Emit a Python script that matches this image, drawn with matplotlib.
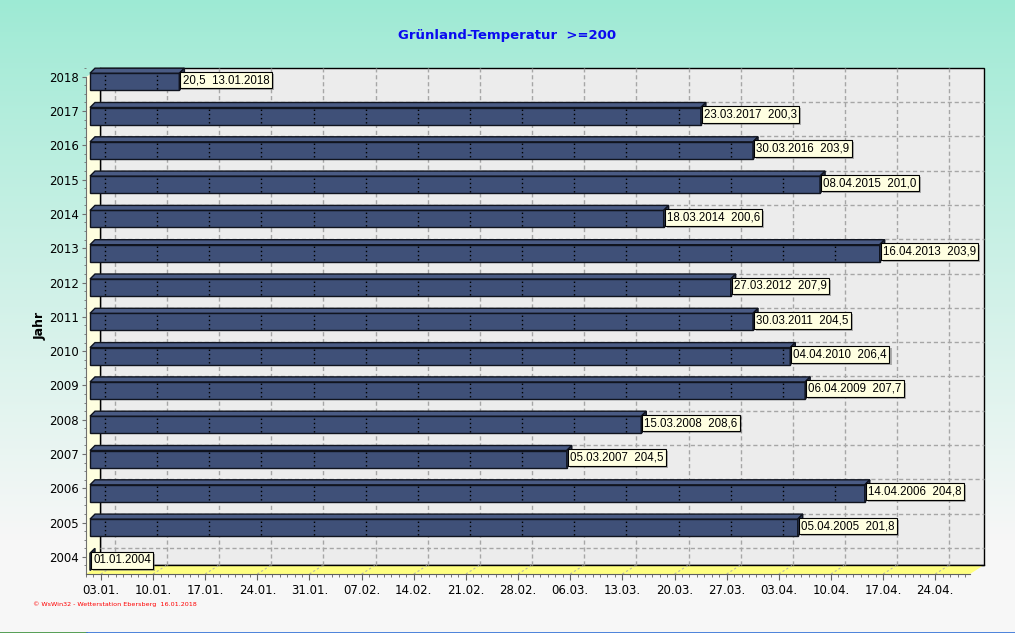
import numpy as np
import matplotlib.pyplot as plt
from matplotlib.patches import Polygon, Rectangle
from matplotlib.ticker import MultipleLocator
import matplotlib.patheffects as pe
from datetime import date

##########################################################################
###   data: date when the grassland temperature sum reached 200
##########################################################################
years = list(range(2004, 2019))
dates = ['01.01.2004', '05.04.2005', '14.04.2006', '05.03.2007', '15.03.2008',
         '06.04.2009', '04.04.2010', '30.03.2011', '27.03.2012', '16.04.2013',
         '18.03.2014', '08.04.2015', '30.03.2016', '23.03.2017', '13.01.2018']
values = [None, 201.8, 204.8, 204.5, 208.6, 207.7, 206.4, 204.5, 207.9, 203.9,
          200.6, 201.0, 203.9, 200.3, 20.5]
xtick_labels = ['03.01.', '10.01.', '17.01.', '24.01.', '31.01.', '07.02.',
                '14.02.', '21.02.', '28.02.', '06.03.', '13.03.', '20.03.',
                '27.03.', '03.04.', '10.04.', '17.04.', '24.04.']

def dayIndex(s):
    '''days since 01.01. on a 366 day calendar (like the chart axis)'''
    d, m = int(s[0:2]), int(s[3:5])
    return (date(2000, m, d) - date(2000, 1, 1)).days

def labelText(dt, v):
    if v is None:
        return dt
    txt = f'{v:.1f}'.replace('.', ',')
    if v < 200:
        return f'{txt}  {dt}'
    return f'{dt}  {txt}'

days = [dayIndex(s) for s in dates]
xticks = [dayIndex(s) for s in xtick_labels]

##########################################################################
###   geometry (pixels of the 1015x633 picture)
##########################################################################
W, H = 1015, 633
kx = 7.45          # px per day
ky = 34.3          # px per year
tick2018 = 76.7    # px of the 2018 tick
axL, axR, axT, axB = 86, 970, 60, 574
DX, DY = 1/kx, 1/ky
xmax = (axR - axL)*DX
ymin = 2018 - (axB - tick2018)*DY
ymax = 2018 + (tick2018 - axT)*DY
wdx, wdy = 14*DX, 9*DY            # depth of the walls
ytopWall = 2018 + (tick2018 - 68)*DY

fig = plt.figure(figsize=(W/100, H/100), dpi=100)

# background gradient
bg = fig.add_axes([0, 0, 1, 1], zorder=-10)
yy = np.arange(H)
t = np.clip(yy/540, 0, 1)**0.9
top = np.array([157, 234, 212])/255
bot = np.array([247, 247, 247])/255
grad = top[None, :]*(1 - t[:, None]) + bot[None, :]*t[:, None]
bg.imshow(grad[:, None, :], aspect='auto', extent=(0, W, H, 0))
bg.set_xlim(0, W)
bg.set_ylim(H, 0)
bg.plot([0, 87], [632.5, 632.5], color='#3a8f3a', lw=1.2)
bg.plot([87, W], [632.5, 632.5], color='#2f6fd6', lw=1.2)
bg.axis('off')

ax = fig.add_axes([axL/W, 1 - axB/H, (axR - axL)/W, (axB - axT)/H])
ax.set_xlim(0, xmax)
ax.set_ylim(ymin, ymax)
ax.patch.set_alpha(0)

# walls and floor
ax.add_patch(Rectangle((wdx, ymin + wdy), xmax, ytopWall - ymin - wdy,
                       fc='#ececec', ec='black', lw=1, zorder=1, clip_on=False))
ax.add_patch(Polygon([(0, ymin), (wdx, ymin + wdy), (wdx, ytopWall), (0, ytopWall - wdy)],
                     closed=True, fc='#ffffe0', ec='none', zorder=1, clip_on=False))
ax.plot([wdx, wdx], [ymin + wdy, ytopWall], color='black', lw=1, zorder=1.5, clip_on=False)
ax.add_patch(Polygon([(0, ymin), (xmax, ymin), (xmax + wdx, ymin + wdy), (wdx, ymin + wdy)],
                     closed=True, fc='#ffff80', ec='none', zorder=1, clip_on=False))
ax.plot([wdx, xmax + wdx], [ymin + wdy, ymin + wdy], color='black', lw=1, zorder=1.5, clip_on=False)

# grid on back wall and floor
for xt in xticks:
    ax.plot([xt + wdx, xt + wdx], [ymin + wdy, ytopWall], color='#a6a6a6', lw=1,
            ls=(0, (3, 2)), zorder=2, clip_on=False)
    ax.plot([xt, xt + wdx], [ymin, ymin + wdy], color='#b8b8a0', lw=0.8,
            ls=(0, (2, 2)), zorder=2, clip_on=False)
for yr in years[:-1]:
    ax.plot([wdx, xmax + wdx], [yr + wdy, yr + wdy], color='#a6a6a6', lw=1,
            ls=(0, (3, 2)), zorder=2, clip_on=False)

# 3d bars
bx0 = 4*DX
bh = 17*DY
bdx, bdy = 5*DX, 5*DY
for yr, d, dt, v in zip(years, days, dates, values):
    yb = yr - 5*DY - bh/2
    yt = yb + bh
    xe = bx0 + d
    ax.add_patch(Rectangle((bx0, yb), d, bh, fc='#3f5078', ec='#10141f', lw=1,
                           zorder=3, clip_on=False))
    ax.add_patch(Polygon([(bx0, yt), (xe, yt), (xe + bdx, yt + bdy), (bx0 + bdx, yt + bdy)],
                         closed=True, fc='#4a5b84', ec='#10141f', lw=1, zorder=3, clip_on=False))
    ax.add_patch(Polygon([(xe, yb), (xe, yt), (xe + bdx, yt + bdy), (xe + bdx, yb + bdy)],
                         closed=True, fc='#2e3a57', ec='#10141f', lw=1, zorder=3, clip_on=False))
    for xt in xticks:
        if bx0 + xt < xe - 0.3:
            ax.plot([bx0 + xt, bx0 + xt], [yb + 1.5*DY, yt - 1.5*DY], color='black',
                    lw=1, ls=(0, (1, 2)), zorder=4, clip_on=False)
    tx = ax.text(xe + 3.2*DX, yr - 3.4*DY, labelText(dt, v), ha='left', va='center',
                 fontsize=8.3, family='Liberation Sans', zorder=6, clip_on=False,
                 bbox=dict(boxstyle='square,pad=0.2', fc='#ffffe1', ec='black', lw=0.8))
    tx.get_bbox_patch().set_path_effects(
        [pe.withSimplePatchShadow(offset=(1.5, -1.5), shadow_rgbFace='#707070', alpha=0.5)])

# axes, ticks
for s in ['top', 'right']:
    ax.spines[s].set_visible(False)
ax.spines['left'].set_color('#707070')
ax.spines['left'].set_bounds(ymin, 2018)
ax.spines['bottom'].set_color('#606060')
ax.set_xticks(xticks)
ax.set_xticklabels(xtick_labels)
ax.xaxis.set_minor_locator(MultipleLocator(1))
ax.set_yticks(years)
ax.set_yticklabels([str(y) for y in years])
ax.yaxis.set_minor_locator(MultipleLocator(0.25))
ax.tick_params(axis='x', which='major', length=4.5, color='#606060', labelsize=8.5, pad=2.5)
ax.tick_params(axis='x', which='minor', length=2.2, color='#606060')
ax.tick_params(axis='y', which='major', length=3, color='#707070', labelsize=8.5, pad=2)
ax.tick_params(axis='y', which='minor', length=1.8, color='#707070')

fig.text(507/W, 1 - 35.5/H, 'Grünland-Temperatur  >=200', ha='center', va='center',
         fontsize=9.5, weight='bold', color='#0a0af0')
fig.text(40/W, 1 - 326/H, 'Jahr', rotation=90, ha='center', va='center',
         fontsize=9, weight='bold')
fig.text(33/W, 1 - 603.7/H, '© WsWin32 - Wetterstation Ebersberg  16.01.2018',
         ha='left', va='center', fontsize=4.6, color='#ff0000')

plt.savefig('out.png', dpi=100)
